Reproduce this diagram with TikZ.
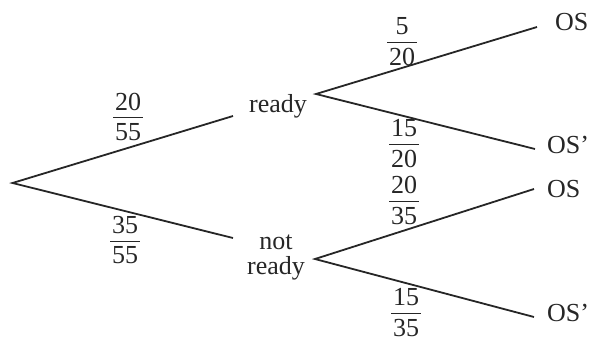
\documentclass[tikz,border=0pt]{standalone}
\usepackage{fontspec}
\setmainfont{Liberation Serif}
\newcommand{\myfr}[2]{\vbox{\offinterlineskip\halign{\hfil\kern2pt##\kern2pt\hfil\cr #1\cr \noalign{\kern 7pt\hrule height 1.2pt\kern 4.5pt} #2\cr}}}
\begin{document}
\begin{tikzpicture}[x=1pt,y=-1pt,
  lbl/.style={font=\fontsize{26}{25}\selectfont, inner sep=0pt, text=black!85},
  frac/.style={font=\fontsize{26}{25}\selectfont, inner sep=0pt, text=black!85, yshift=1.5pt},
  branch/.style={draw=black!85, line width=1.8pt}]
\useasboundingbox (0,0) rectangle (590,343);
% branch end points
\coordinate (root) at (12.5,183);
\coordinate (rin) at (233,116);
\coordinate (nin) at (233,238);
\coordinate (rout) at (316,94);
\coordinate (nout) at (315,259);
\coordinate (osa) at (537,27);
\coordinate (osb) at (535,149);
\coordinate (osc) at (534,189);
\coordinate (osd) at (534,317);
% labels
\node[lbl, anchor=base] (ready) at (278,112) {ready};
\node[lbl, align=center] (notready) at (276,257) {not\\ready};
\node[lbl, anchor=base west] (la) at (555,30) {OS};
\node[lbl, anchor=base west] (lb) at (547,153) {OS'};
\node[lbl, anchor=base west] (lc) at (547,197) {OS};
\node[lbl, anchor=base west] (ld) at (547,321) {OS'};
% probabilities
\node[frac] (p1) at (128,118) {\myfr{20}{55}};
\node[frac] (p2) at (125,242) {\myfr{35}{55}};
\node[frac] (p3) at (402,43) {\myfr{5}{20}};
\node[frac] (p4) at (404,145) {\myfr{15}{20}};
\node[frac] (p5) at (404,202) {\myfr{20}{35}};
\node[frac] (p6) at (406,314) {\myfr{15}{35}};
% branches
\draw[branch] (rin) -- (root) -- (nin);
\draw[branch] (osa) -- (rout) -- (osb);
\draw[branch] (osc) -- (nout) -- (osd);
\end{tikzpicture}
\end{document}
